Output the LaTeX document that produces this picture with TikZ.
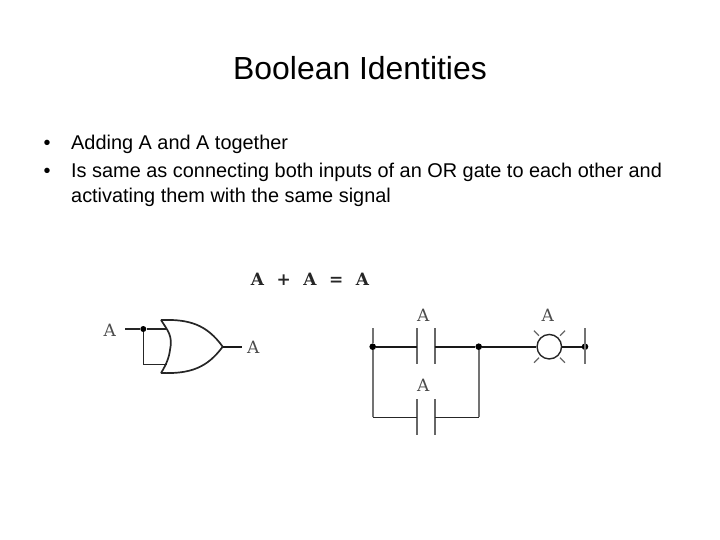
\documentclass[tikz,border=0pt]{standalone}
\usepackage{fontspec}
\setmainfont{Liberation Sans}
\newfontfamily\labelfont{DejaVu Serif}
\newcommand{\pxfont}[1]{\fontsize{#1}{#1}\selectfont}
\tikzset{
  titletext/.style={inner sep=0pt,anchor=center,font=\pxfont{31.9}},
  bullettext/.style={inner sep=0pt,anchor=base west,font=\pxfont{19.9}},
  siglabel/.style={inner sep=0pt,text=black!70,font=\labelfont\pxfont{17}},
  eqtext/.style={inner sep=0pt,text=black!85,font=\labelfont\bfseries\pxfont{17}},
  wire/.style={line width=1.4pt,black!85},
  heavywire/.style={line width=2.2pt,black!90},
  gateline/.style={line width=1.7pt,black!85,line join=round},
  rail/.style={line width=1.8pt,black!55},
  contactbar/.style={line width=1.8pt,black!60},
  joint/.style={circle,fill=black,inner sep=0pt,minimum size=6.6pt},
  lamp/.style={circle,draw=black!85,line width=1.4pt,fill=white,inner sep=0pt,minimum size=24.5pt},
  ray/.style={line width=1.3pt,black!60}
}
\begin{document}
\begin{tikzpicture}[x=1pt,y=-1pt]
\useasboundingbox (0,0) rectangle (720,540);
\node[titletext] (title) at (360,68) {Boolean Identities};
\node[bullettext] (b1) at (43.5,150) {•};
\node[bullettext] (l1) at (71,150) {Adding A and A together};
\node[bullettext] (b2) at (43.5,178) {•};
\node[bullettext] (l2) at (71,178) {Is same as connecting both inputs of an OR gate to each other and};
\node[bullettext] (l3) at (71,203) {activating them with the same signal};
\node[eqtext] (eq) at (310,279) {A\hspace{12.5pt}+\hspace{12.5pt}A\hspace{12.5pt}=\hspace{12.5pt}A};
% OR gate
\coordinate (gtop) at (161,320);
\coordinate (gbot) at (161,373);
\coordinate (gtip) at (222.7,346.7);
\coordinate (gin1) at (166.5,329);
\coordinate (gin2) at (166.5,364.3);
\coordinate (inend) at (125,329);
\coordinate (loop) at (143.3,364.3);
\coordinate (outend) at (241.7,346.7);
\node[joint,minimum size=6pt] (gdot) at (143.3,329) {};
\draw[gateline] (gtop) .. controls (168,331) and (173,336) .. (170,350) .. controls (169,358) and (166,365) .. (gbot);
\draw[gateline] (gtop) .. controls (190,319) and (207,325) .. (gtip) .. controls (207,368) and (190,374) .. (gbot);
\draw[wire] (inend) -- (gdot) -- (gin1);
\draw[wire] (gdot) -- (loop) -- (gin2);
\draw[heavywire] (gtip) -- (outend);
\node[siglabel] (ain) at (109.7,330) {A};
\node[siglabel] (aout) at (253.3,347) {A};
% Ladder
\coordinate (lt) at (372.7,328);
\coordinate (lb) at (372.7,417.3);
\node[joint] (jl) at (372.7,346.7) {};
\node[joint] (jm) at (478.7,346.7) {};
\node[joint] (jr) at (585,346.7) {};
\node[lamp] (lampn) at (549.3,346.7) {};
\coordinate (c1lt) at (417.3,328.3); \coordinate (c1lb) at (417.3,364.3);
\coordinate (c1rt) at (434.7,328.3); \coordinate (c1rb) at (434.7,364.3);
\coordinate (c2lt) at (417.3,399); \coordinate (c2lb) at (417.3,435);
\coordinate (c2rt) at (434.7,399); \coordinate (c2rb) at (434.7,435);
\coordinate (c1l) at (417.3,346.7); \coordinate (c1r) at (434.7,346.7);
\coordinate (c2l) at (417.3,417.3); \coordinate (c2r) at (434.7,417.3);
\coordinate (mb) at (478.7,417.3);
\coordinate (rt) at (585,328.3); \coordinate (rb) at (585,364.3);
\draw[rail] (lt) -- (jl) -- (lb);
\draw[rail] (jm) -- (mb);
\draw[rail] (rt) -- (rb);
\draw[contactbar] (c1lt) -- (c1lb);
\draw[contactbar] (c1rt) -- (c1rb);
\draw[contactbar] (c2lt) -- (c2lb);
\draw[contactbar] (c2rt) -- (c2rb);
\draw[heavywire] (jl) -- (c1l);
\draw[heavywire] (c1r) -- (jm) -- (lampn);
\draw[heavywire] (lampn) -- (jr);
\draw[wire] (lb) -- (c2l);
\draw[wire] (c2r) -- (mb);
\draw[ray] (534,330.7) -- (539,335.7);
\draw[ray] (565,330.7) -- (560,335.7);
\draw[ray] (534,362.7) -- (539,357.7);
\draw[ray] (565,362.7) -- (560,357.7);
\node[siglabel] (ac1) at (423.3,315) {A};
\node[siglabel] (ac2) at (423.3,385) {A};
\node[siglabel] (alamp) at (547.7,315) {A};
\end{tikzpicture}
\end{document}
